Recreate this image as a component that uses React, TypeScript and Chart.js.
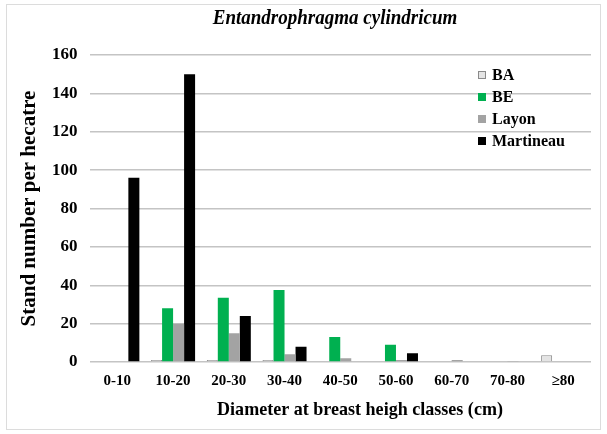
import React, { useEffect, useRef } from 'react';
import { Chart, registerables } from 'chart.js';

Chart.register(...registerables);

const categories = ['0-10', '10-20', '20-30', '30-40', '40-50', '50-60', '60-70', '70-80', '≥80'];
const seriesNames = ['BA', 'BE', 'Layon', 'Martineau'];
const baValues = [0, 1, 1, 1, 0, 0, 0, 0, 3.5];
const beValues = [0, 28, 33.5, 37.5, 13, 9, 0, 0, 0];
const layonValues = [0, 20, 15, 4, 2, 1, 1, 0.5, 0];
const martineauValues = [96, 150, 24, 8, 0, 4.5, 0, 0, 0];
const yTickValues = [0, 20, 40, 60, 80, 100, 120, 140, 160];

const chartTitle = 'Entandrophragma cylindricum';
const xAxisTitle = 'Diameter at breast heigh classes (cm)';
const yAxisTitle = 'Stand number per hecatre';

const SERIF = '"Liberation Serif", "Times New Roman", serif';

function drawCondensed(ctx: any, text: string, cx: number, cy: number, sx: number) {
  ctx.save();
  ctx.translate(cx, cy);
  ctx.scale(sx, 1);
  ctx.fillText(text, 0, 0);
  ctx.restore();
}

const overlayPlugin = {
  id: 'overlay',
  afterDraw(chart: any) {
    const ctx = chart.ctx;
    ctx.save();
    ctx.fillStyle = '#000';
    ctx.textAlign = 'center';
    ctx.textBaseline = 'middle';
    ctx.font = `italic bold 21px ${SERIF}`;
    drawCondensed(ctx, chartTitle, 335, 19, 0.905);

    ctx.font = `bold 19px ${SERIF}`;
    drawCondensed(ctx, xAxisTitle, 360, 410, 0.95);

    const x0 = 478;
    const y0 = 75;
    const step = 22;
    chart.data.datasets.forEach((ds: any, i: number) => {
      const y = y0 + i * step;
      ctx.fillStyle = ds.backgroundColor;
      ctx.fillRect(x0, y - 4, 8, 8);
      if (ds.borderWidth) {
        ctx.strokeStyle = ds.borderColor;
        ctx.lineWidth = 1;
        ctx.strokeRect(x0 + 0.5, y - 3.5, 7, 7);
      }
      ctx.fillStyle = '#000';
      ctx.textAlign = 'left';
      ctx.font = `bold 16px ${SERIF}`;
      ctx.fillText(ds.label, x0 + 14, y + 1);
    });
    ctx.restore();
  },
};

export default function App() {
  const canvasRef = useRef<HTMLCanvasElement | null>(null);

  useEffect(() => {
    if (!canvasRef.current) return;
    const chart = new Chart(canvasRef.current, {
      type: 'bar',
      data: {
        labels: categories,
        datasets: [
          { label: seriesNames[0], data: baValues, backgroundColor: '#e4e4e4', borderColor: '#8a8a8a', borderWidth: 1 },
          { label: seriesNames[1], data: beValues, backgroundColor: '#00b050', borderWidth: 0 },
          { label: seriesNames[2], data: layonValues, backgroundColor: '#a3a3a3', borderWidth: 0 },
          { label: seriesNames[3], data: martineauValues, backgroundColor: '#000000', borderWidth: 0 },
        ],
      },
      options: {
        responsive: false,
        animation: false,
        layout: { padding: { left: 19, right: 16, top: 55, bottom: 34 } },
        datasets: { bar: { categoryPercentage: 0.79, barPercentage: 1.0 } },
        plugins: {
          legend: { display: false },
          title: { display: false },
          tooltip: { enabled: false },
        },
        scales: {
          x: {
            grid: { display: false, drawTicks: false },
            border: { display: false },
            ticks: { color: '#000', font: { family: SERIF, size: 15, weight: 'bold' }, padding: 10 },
            title: { display: false, text: xAxisTitle },
          },
          y: {
            min: 0,
            max: 160,
            afterBuildTicks: (scale: any) => {
              scale.ticks = yTickValues.map((v) => ({ value: v }));
            },
            grid: { color: '#c4c4c4', lineWidth: 1.5, drawTicks: false },
            border: { display: false },
            ticks: { color: '#000', font: { family: SERIF, size: 17, weight: 'bold' }, padding: 12 },
            title: {
              display: true,
              text: yAxisTitle,
              color: '#000',
              font: { family: SERIF, size: 21, weight: 'bold', lineHeight: 1 },
              padding: { top: 0, bottom: 0 },
            },
          },
        },
      },
      plugins: [overlayPlugin],
    });
    return () => chart.destroy();
  }, []);

  return (
    <div style={{ position: 'absolute', left: 0, top: 0, width: 607, height: 434, background: '#fff' }}>
      <div
        style={{
          position: 'absolute',
          left: 6,
          top: 4,
          width: 595,
          height: 426,
          border: '1px solid #dcdcdc',
          boxSizing: 'border-box',
        }}
      />
      <canvas ref={canvasRef} width={607} height={434} style={{ position: 'absolute', left: 0, top: 0 }} />
    </div>
  );
}
